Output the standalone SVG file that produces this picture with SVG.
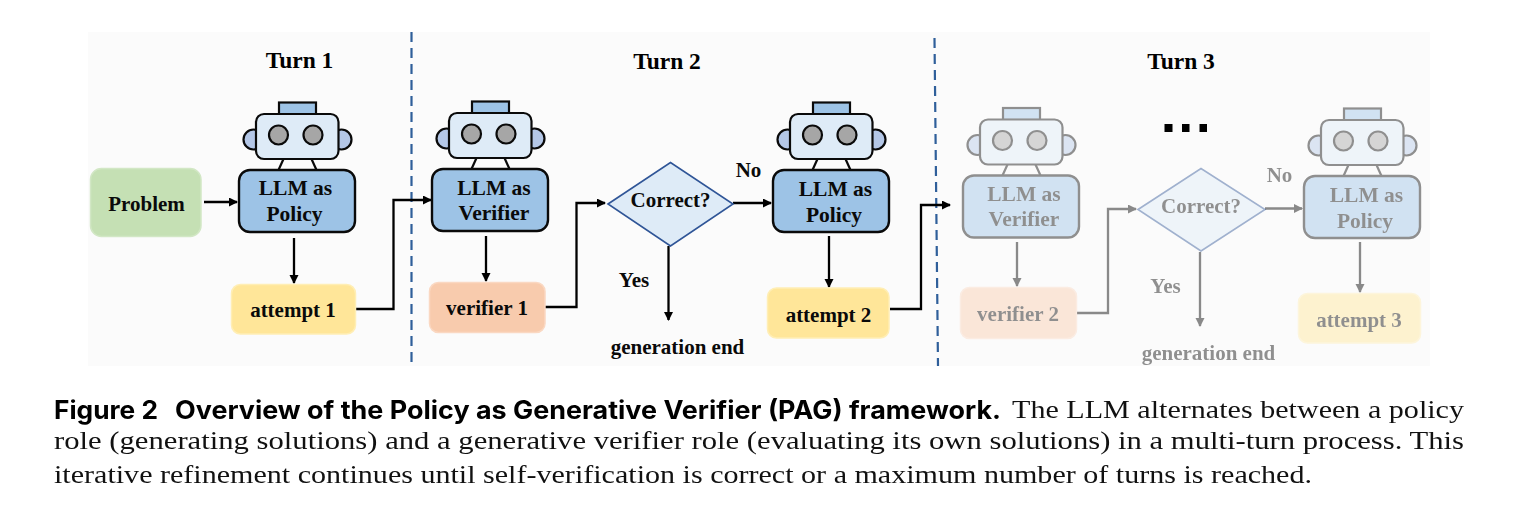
<svg xmlns="http://www.w3.org/2000/svg" width="1516" height="523" viewBox="0 0 1516 523">
<style>
text{font-family:"Liberation Serif","Times New Roman",serif;font-weight:700;font-size:21px;fill:#0a0a0a;text-anchor:middle}
.llm{font-size:21.500px}
.turn{font-size:23.500px;fill:#000}
.lbl{font-size:21px}
.cap{font-size:26px;font-weight:400;text-anchor:start;fill:#111}
.head{font-family:"Inter","Liberation Sans",sans-serif;font-size:25.500px;font-weight:700;text-anchor:start;fill:#000}
.faded{opacity:.45}
.body{fill:#9dc3e6;stroke:#0a0a0a;stroke-width:2.4}
.box{stroke-width:1.5}
.problem{fill:#c5e0b4;stroke:#d2e7c5}
.attempt{fill:#ffe699;stroke:#ffeeb5}
.verifier{fill:#f8cbad;stroke:#fad8c2}
.diamond{fill:#deebf7;stroke:#2f5597;stroke-width:1.6}
.rs{stroke:#0a0a0a;stroke-width:2.200}
.conn{fill:none;stroke:#000;stroke-width:2.300;marker-end:url(#arrow)}
.div{fill:none;stroke:#2f5f9a;stroke-width:2.200;stroke-dasharray:10 6}
</style>
<defs>
<marker id="arrow" markerUnits="userSpaceOnUse" markerWidth="10" markerHeight="10" refX="8" refY="4.5" orient="auto"><path d="M0 0L9 4.5L0 9z" fill="#000"/></marker>
<g id="robot">
<rect class="rs" x="279" y="102.500" width="37" height="12" fill="#9dc3e6"/>
<circle class="rs" cx="253.500" cy="139.500" r="10" fill="#b4c7e7"/>
<circle class="rs" cx="341.500" cy="139.500" r="10" fill="#b4c7e7"/>
<path class="rs" d="M283.500 159L278.500 170M311.500 159L316.500 170" fill="none"/>
<rect class="rs" x="256" y="114" width="82.500" height="45" rx="8" fill="#deebf7"/>
<circle class="rs" cx="278.500" cy="135" r="9.500" fill="#a6a6a6"/>
<circle class="rs" cx="313" cy="135" r="9.500" fill="#a6a6a6"/>
<rect class="body" x="239" y="170" width="116" height="62" rx="11"/>
</g>
</defs>
<rect id="background" x="88" y="32" width="1342" height="334" fill="#fbfbfb"/>
<g id="dividers">
<path class="div" d="M411.500 32V366"/>
<path class="div" d="M934.500 38L938 366"/>
</g>
<text class="turn" x="299.500" y="68">Turn 1</text>
<text class="turn" x="667" y="69">Turn 2</text>
<text class="turn" x="1181" y="69">Turn 3</text>
<g id="connectors">
<path class="conn" d="M204 202H237"/>
<path class="conn" d="M294 238V283"/>
<path class="conn" d="M356 309H393.500V200H431"/>
<path class="conn" d="M486 236V281"/>
<path class="conn" d="M545 307H576.500V203H605"/>
<path class="conn" d="M733 203H771"/>
<path class="conn" d="M668.500 246V320"/>
<path class="conn" d="M829 236V287"/>
<path class="conn" d="M890 309H921V205H950"/>
<g class="faded">
<path class="conn" d="M1017 242V286"/>
<path class="conn" d="M1077 313H1108V209H1136"/>
<path class="conn" d="M1265 208.500H1302"/>
<path class="conn" d="M1200 252V326"/>
<path class="conn" d="M1360 242V292"/>
</g>
</g>
<g id="problem"><rect class="box problem" x="90.500" y="168.500" width="110.500" height="68" rx="11"/><text x="146.500" y="211">Problem</text></g>
<g id="policy1"><use href="#robot"/><text class="llm" x="295.500" y="195">LLM as</text><text class="llm" x="294.500" y="221">Policy</text></g>
<g id="attempt1"><rect class="box attempt" x="231.500" y="284.500" width="124" height="49.500" rx="9"/><text x="293" y="317">attempt 1</text></g>
<g id="verifier-llm1"><use href="#robot" x="193" y="-1"/><text class="llm" x="494" y="195">LLM as</text><text class="llm" x="494" y="220">Verifier</text></g>
<g id="verifier1"><rect class="box verifier" x="429.500" y="282.500" width="115.500" height="50" rx="9"/><text x="487" y="315">verifier 1</text></g>
<g id="decision1"><path class="diamond" d="M608 204L670.500 162.500L733 204L670.500 246z"/><text x="670.500" y="207">Correct?</text></g>
<text class="lbl" x="748.500" y="177">No</text>
<text class="lbl" x="634" y="287">Yes</text>
<text class="lbl" x="677.500" y="354">generation end</text>
<g id="policy2"><use href="#robot" x="534"/><text class="llm" x="835.500" y="196">LLM as</text><text class="llm" x="834" y="222">Policy</text></g>
<g id="attempt2"><rect class="box attempt" x="767.500" y="288" width="121.500" height="50" rx="9"/><text x="828.500" y="322">attempt 2</text></g>
<g class="faded">
<g id="verifier-llm2"><use href="#robot" x="724" y="5.500"/><text class="llm" x="1024" y="201">LLM as</text><text class="llm" x="1024" y="226">Verifier</text></g>
<g id="verifier2"><rect class="box verifier" x="960.500" y="287.500" width="116" height="51" rx="9"/><text x="1018" y="321">verifier 2</text></g>
<g id="decision2"><path class="diamond" d="M1138 209.500L1201 168.500L1265 209.500L1201 251z"/><text x="1201" y="213">Correct?</text></g>
<text class="lbl" x="1279.500" y="182">No</text>
<text class="lbl" x="1165.500" y="293">Yes</text>
<text class="lbl" x="1208.500" y="360">generation end</text>
<g id="policy3"><use href="#robot" x="1065" y="6"/><text class="llm" x="1366.500" y="202">LLM as</text><text class="llm" x="1365" y="228">Policy</text></g>
<g id="attempt3"><rect class="box attempt" x="1298.500" y="293.500" width="122" height="49.500" rx="9"/><text x="1359" y="327">attempt 3</text></g>
</g>
<g id="ellipsis" fill="#000"><rect x="1164.500" y="124" width="8" height="8"/><rect x="1182" y="124" width="7.500" height="8"/><rect x="1199.500" y="124" width="7.500" height="8"/></g>
<g id="caption">
<text class="head" x="54" y="418.500" textLength="104" lengthAdjust="spacingAndGlyphs">Figure 2</text>
<text class="head" x="175" y="418.500" textLength="826" lengthAdjust="spacingAndGlyphs">Overview of the Policy as Generative Verifier (PAG) framework.</text>
<text class="cap" x="1012" y="418" textLength="452" lengthAdjust="spacingAndGlyphs">The LLM alternates between a policy</text>
<text class="cap" x="54" y="449" textLength="1410" lengthAdjust="spacingAndGlyphs">role (generating solutions) and a generative verifier role (evaluating its own solutions) in a multi-turn process. This</text>
<text class="cap" x="54" y="483" textLength="1258" lengthAdjust="spacingAndGlyphs">iterative refinement continues until self-verification is correct or a maximum number of turns is reached.</text>
</g>
</svg>
